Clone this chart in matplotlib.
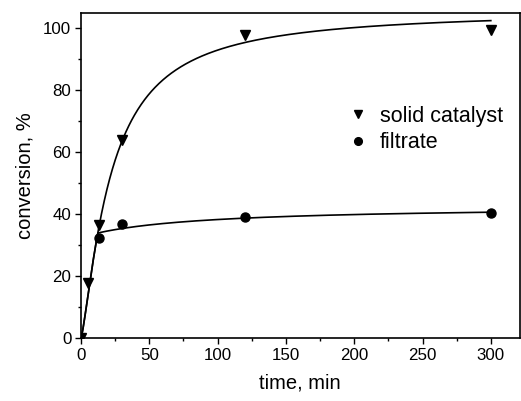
import matplotlib
matplotlib.use("Agg")
import matplotlib.pyplot as plt
import numpy as np

plt.rcParams['font.family'] = ['Liberation Sans', 'DejaVu Sans']

# measured points
solid_t = [0, 5, 13, 30, 120, 300]
solid_conv = [0, 17.6, 36.5, 63.9, 97.7, 99.4]
filt_t = [13, 30, 120, 300]
filt_conv = [32.4, 36.8, 39.1, 40.3]

# fitted curve parameters (Hill-type for catalyst, slow growth after filtration)
hill_a, hill_b, hill_n = 105.8, 55.45, 1.3
t_filter = 12.3
filt_c, filt_d = 8.8, 90.0


def solid_fit(t):
    tn = np.power(t, hill_n)
    return hill_a * tn / (hill_b + tn)


def filt_fit(t):
    base = solid_fit(t_filter)
    dt = np.clip(t - t_filter, 0, None)
    return np.where(t <= t_filter, solid_fit(t), base + filt_c * dt / (filt_d + dt))


fig = plt.figure(figsize=(5.21, 4.01), dpi=100)
ax = fig.add_axes([81 / 521, 63 / 401, (519.5 - 81) / 521, (338 - 12.5) / 401])

tt = np.linspace(0, 300, 600)
ax.plot(tt, solid_fit(tt), color='black', lw=1.2)
ax.plot(tt, filt_fit(tt), color='black', lw=1.2)

ax.plot(solid_t, solid_conv, 'v', color='black', ms=7, ls='none', label='solid catalyst')
ax.plot(filt_t, filt_conv, 'o', color='black', ms=6.5, ls='none', label='filtrate')

ax.set_xlim(0, 321)
ax.set_ylim(0, 105)
ax.set_xticks(np.arange(0, 301, 50))
ax.set_xticks(np.arange(25, 301, 50), minor=True)
ax.set_yticks(np.arange(0, 101, 20))
ax.set_yticks(np.arange(10, 101, 20), minor=True)

for s in ax.spines.values():
    s.set_linewidth(1.2)
ax.tick_params(which='major', direction='out', length=4, width=1, labelsize=12.2, pad=3)
ax.tick_params(which='minor', direction='out', length=2.5, width=1)
ax.tick_params(top=False, right=False)

ax.set_xlabel('time, min', fontsize=14.5, labelpad=8)
ax.set_ylabel('conversion, %', fontsize=14.5, labelpad=6)

ax.legend(loc='upper left', bbox_to_anchor=(0.611, 0.713), frameon=False,
          fontsize=15.5, handlelength=0.8, handletextpad=0.65,
          labelspacing=0.25, borderpad=0, borderaxespad=0, markerscale=0.85)

fig.savefig('out.png', dpi=100)
